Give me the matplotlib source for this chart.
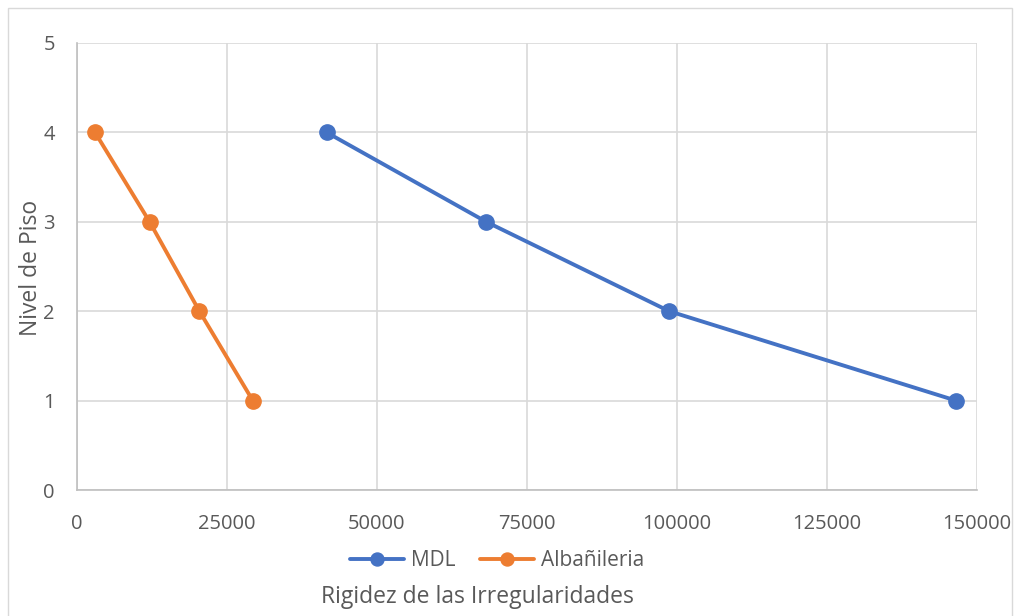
import matplotlib

matplotlib.use("Agg")
import matplotlib.pyplot as plt
from matplotlib.patches import Rectangle

# data
pisos = [4, 3, 2, 1]
mdl = [41600, 68200, 98700, 146500]
albanileria = [3000, 12100, 20400, 29300]

MDL_COLOR = "#4472c4"
ALB_COLOR = "#ed7d31"
TEXT_COLOR = "#595959"
GRID_COLOR = "#d9d9d9"

plt.rcParams["font.family"] = ["Open Sans", "DejaVu Sans"]

fig = plt.figure(figsize=(10.19, 6.16), dpi=100)
ax = fig.add_axes([77 / 1019, 1 - 490 / 616, 900 / 1019, 447 / 616])

ax.plot(mdl, pisos, marker="o", color=MDL_COLOR, lw=2.8, ms=11, label="MDL",
        solid_capstyle="round", zorder=3)
ax.plot(albanileria, pisos, marker="o", color=ALB_COLOR, lw=2.8, ms=11,
        label="Albañileria", solid_capstyle="round", zorder=3)

ax.set_xlim(0, 150000)
ax.set_ylim(0, 5)
ax.set_xticks(range(0, 150001, 25000))
ax.set_yticks(range(0, 6))
ax.grid(True, color=GRID_COLOR, lw=1.2)
ax.set_axisbelow(True)
for side in ("top", "right"):
    ax.spines[side].set_visible(False)
for side in ("left", "bottom"):
    ax.spines[side].set_color("#bfbfbf")
    ax.spines[side].set_linewidth(1.2)
ax.tick_params(length=0, labelsize=14.5, colors=TEXT_COLOR)
ax.tick_params(axis="x", pad=17)
ax.tick_params(axis="y", pad=16)

ax.set_ylabel("Nivel de Piso", fontsize=16.5, color=TEXT_COLOR)
ax.yaxis.set_label_coords(43 / 1019, 1 - 268 / 616, transform=fig.transFigure)
fig.text(477 / 1019, 1 - 597 / 616, "Rigidez de las Irregularidades",
         ha="center", va="center", fontsize=16.5, color=TEXT_COLOR)

ax.legend(loc="center", bbox_to_anchor=(497 / 1019, 1 - 561 / 616),
          bbox_transform=fig.transFigure, ncol=2, frameon=False, fontsize=15,
          labelcolor=TEXT_COLOR, handlelength=2.6, handletextpad=0.3,
          columnspacing=1.2, markerscale=0.85)

fig.patches.append(Rectangle((8 / 1019, -0.01), 1004 / 1019, 1 - 8 / 616 + 0.01,
                             transform=fig.transFigure, fill=False,
                             edgecolor="#d9d9d9", lw=1))

fig.savefig("out.png", dpi=100)
